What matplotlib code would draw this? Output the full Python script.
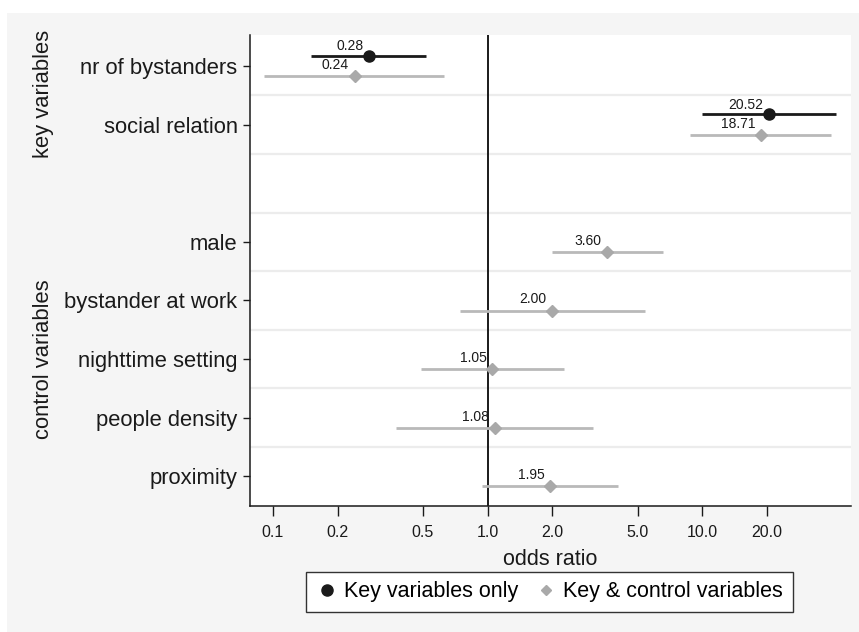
import numpy as np
import matplotlib.pyplot as plt
from matplotlib.patches import Rectangle
from matplotlib.lines import Line2D
from matplotlib.transforms import blended_transform_factory

plt.rcParams['font.family'] = ['Liberation Sans', 'DejaVu Sans']

# rows of the coefficient plot (empty string = gap row)
labels = ["nr of bystanders", "social relation", "", "male", "bystander at work",
          "nighttime setting", "people density", "proximity"]

# model 1: key variables only (rows 0 and 1)
key_rows = [0, 1]
key_or = [0.28, 20.52]
key_lo = [0.150, 9.97]
key_hi = [0.515, 42.0]

# model 2: key & control variables
ctl_rows = [0, 1, 3, 4, 5, 6, 7]
ctl_or = [0.24, 18.71, 3.60, 2.00, 1.05, 1.08, 1.95]
ctl_lo = [0.0905, 8.79, 2.00, 0.744, 0.487, 0.376, 0.943]
ctl_hi = [0.626, 39.8, 6.55, 5.41, 2.28, 3.10, 4.03]

xticks = [0.1, 0.2, 0.5, 1.0, 2.0, 5.0, 10.0, 20.0]

black = "#1a1a1a"
grey_m = "#a9a9a9"
grey_l = "#b9b9b9"

fig = plt.figure(figsize=(8.59, 6.32), dpi=100, facecolor="white")
fig.patches.append(Rectangle((7 / 859, 0), 1, 1 - 13 / 632, transform=fig.transFigure,
                             facecolor="#f5f5f5", edgecolor="none", zorder=-5))
ax = fig.add_axes([250 / 859, 1 - 506 / 632, 601 / 859, 471 / 632])
ax.set_zorder(2)
ax.set_facecolor("white")

off = 0.175
for r in range(7):
    ax.axhline(r + 0.5, color="#ececec", lw=1.6, zorder=1)
ax.axvline(1.0, color=black, lw=1.4, zorder=2)

y1 = np.array(key_rows) - off
ax.hlines(y1, key_lo, key_hi, color=black, lw=2, zorder=3)
ax.plot(key_or, y1, "o", color=black, ms=8, zorder=4)
for x, y in zip(key_or, y1):
    ax.annotate(f"{x:.2f}", (x, y), xytext=(-4, 2), textcoords="offset points",
                ha="right", va="bottom", fontsize=10, color=black)

y2 = np.array(ctl_rows) + off
ax.hlines(y2, ctl_lo, ctl_hi, color=grey_l, lw=2, zorder=3)
ax.plot(ctl_or, y2, "D", color=grey_m, ms=6.5, zorder=4)
for x, y in zip(ctl_or, y2):
    ax.annotate(f"{x:.2f}", (x, y), xytext=(-4, 3), textcoords="offset points",
                ha="right", va="bottom", fontsize=10, color=black)

ax.set_xscale("log")
ax.set_xlim(0.0782, 49.3)
ax.set_xticks(xticks)
ax.set_xticklabels([f"{t:.1f}" for t in xticks])
ax.minorticks_off()
ax.set_ylim(7.51, -0.53)
tick_rows = [i for i, l in enumerate(labels) if l]
ax.set_yticks(tick_rows)
ax.set_yticklabels([labels[i] for i in tick_rows])
ax.tick_params(axis="y", labelsize=15.8, length=5, width=1, colors=black, pad=4)
ax.tick_params(axis="x", labelsize=11.5, length=7, width=1, colors=black, pad=7)
for s in ["top", "right"]:
    ax.spines[s].set_visible(False)
for s in ["left", "bottom"]:
    ax.spines[s].set_color(black)
    ax.spines[s].set_linewidth(1.1)
ax.set_xlabel("odds ratio", fontsize=15.5, color=black, labelpad=6)

tr = blended_transform_factory(fig.transFigure, ax.transData)
ax.text(44 / 859, 0.47, "key variables", rotation=90, transform=tr,
        ha="center", va="center", fontsize=15.8, color=black)
ax.text(44 / 859, 5.0, "control variables", rotation=90, transform=tr,
        ha="center", va="center", fontsize=15.8, color=black)

handles = [Line2D([], [], ls="none", marker="o", color=black, ms=8),
           Line2D([], [], ls="none", marker="D", color=grey_m, ms=5.5)]
leg = fig.legend(handles, ["Key variables only", "Key & control variables"],
                 loc="center", bbox_to_anchor=(549.5 / 859, 1 - 592 / 632),
                 ncol=2, fontsize=15.5, frameon=True, fancybox=False, framealpha=1,
                 edgecolor="#333333", handletextpad=0.3, columnspacing=0.8,
                 handlelength=1.0, borderpad=0.45, borderaxespad=0)
leg.get_frame().set_linewidth(1)

fig.savefig("out.png", dpi=100, facecolor=fig.get_facecolor())
